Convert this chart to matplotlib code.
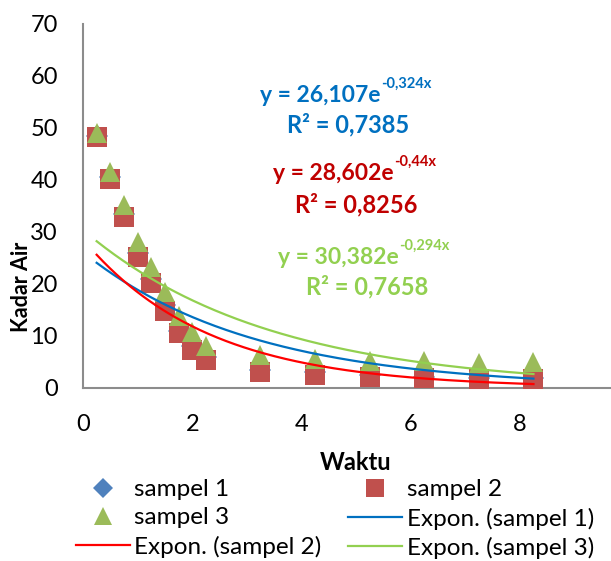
import numpy as np
import matplotlib
matplotlib.use("Agg")
import matplotlib.pyplot as plt
from matplotlib.lines import Line2D

plt.rcParams['font.family'] = ['Lato', 'DejaVu Sans']

# ---- data ----
waktu = [0.25, 0.5, 0.75, 1.0, 1.25, 1.5, 1.75, 2.0, 2.25, 3.25, 4.25, 5.25, 6.25, 7.25, 8.25]
sampel1 = [48.5, 40.5, 33.5, 26.0, 21.0, 16.0, 11.0, 8.0, 6.0, 3.5, 3.0, 2.5, 2.2, 2.0, 2.0]
sampel2 = [48.2, 40.2, 32.9, 25.2, 20.1, 14.9, 10.5, 7.3, 5.4, 3.1, 2.5, 2.1, 1.9, 1.7, 1.7]
sampel3 = [49.0, 41.5, 35.2, 28.1, 23.3, 18.4, 13.8, 10.7, 8.0, 6.3, 5.5, 5.1, 5.1, 4.9, 5.0]

# exponential trendline coefficients (y = A * exp(b x))
fit_A = [26.107, 28.602, 30.382]
fit_b = [-0.324, -0.44, -0.294]
fit_r2 = ["0,7385", "0,8256", "0,7658"]
fit_A_txt = ["26,107", "28,602", "30,382"]
fit_b_txt = ["-0,324x", "-0,44x", "-0,294x"]

series_names = ["sampel 1", "sampel 2", "sampel 3"]
trend_names = ["Expon. (sampel 1)", "Expon. (sampel 2)", "Expon. (sampel 3)"]

marker_colors = ["#4F81BD", "#C0504D", "#9BBB59"]
line_colors = ["#0070C0", "#FF0000", "#92D050"]
text_colors = ["#0070C0", "#C00000", "#92D050"]

W, H = 611, 561
fig = plt.figure(figsize=(W / 100, H / 100), dpi=100)
ax = fig.add_axes([83 / W, 1 - 388 / H, 1 - 83 / W, (388 - 24) / H])

ax.plot(waktu, sampel1, linestyle='none', marker='D', markersize=11,
        color=marker_colors[0], markeredgewidth=0, zorder=2)
ax.plot(waktu, sampel2, linestyle='none', marker='s', markersize=14.2,
        color=marker_colors[1], markeredgewidth=0, zorder=3)
ax.plot(waktu, sampel3, linestyle='none', marker='^', markersize=14.5,
        color=marker_colors[2], markeredgewidth=0, zorder=4)

xs = np.linspace(min(waktu), max(waktu), 200)
for i in range(3):
    ax.plot(xs, fit_A[i] * np.exp(fit_b[i] * xs), color=line_colors[i], lw=1.6, zorder=5)

ax.set_xlim(0, 9.67)
ax.set_ylim(0, 70)
ax.set_xticks([0, 2, 4, 6, 8])
ax.set_yticks(range(0, 71, 10))
ax.tick_params(length=0, labelsize=17)
ax.tick_params(axis='x', pad=19)
ax.tick_params(axis='y', pad=18)
for s in ['top', 'right']:
    ax.spines[s].set_visible(False)
for s in ['left', 'bottom']:
    ax.spines[s].set_color('#8C8C8C')
    ax.spines[s].set_linewidth(1.5)

# axis titles
fig.text(22 / W, 1 - 287 / H, "Kadar Air", rotation=90, ha='center', va='center',
         fontsize=15.5, fontweight='bold')
fig.text(356 / W, 1 - 462 / H, "Waktu", ha='center', va='center',
         fontsize=17, fontweight='bold')

# equations
eq_pos = [(260, 95, 348, 125), (273, 173, 356, 205), (278, 257, 367, 287)]
for i in range(3):
    x0, y0, xr, yr = eq_pos[i]
    t = fig.text(x0 / W, 1 - y0 / H, "y = " + fit_A_txt[i] + "e", ha='left', va='center',
                 fontsize=16.5, fontweight='bold', color=text_colors[i])
    ax.annotate(fit_b_txt[i], xy=(1, 0.68), xycoords=t, ha='left', va='bottom',
                fontsize=10.5, fontweight='bold', color=text_colors[i],
                xytext=(0.5, 0), textcoords='offset points', annotation_clip=False)
    fig.text(xr / W, 1 - yr / H, "R² = " + fit_r2[i], ha='center', va='center',
             fontsize=17, fontweight='bold', color=text_colors[i])

# legend (row-major order emulated)
h_s1 = Line2D([], [], linestyle='none', marker='D', markersize=10, color=marker_colors[0], markeredgewidth=0)
h_s2 = Line2D([], [], linestyle='none', marker='s', markersize=13, color=marker_colors[1], markeredgewidth=0)
h_s3 = Line2D([], [], linestyle='none', marker='^', markersize=13, color=marker_colors[2], markeredgewidth=0)
h_e1 = Line2D([], [], color=line_colors[0], lw=1.6)
h_e2 = Line2D([], [], color=line_colors[1], lw=1.6)
h_e3 = Line2D([], [], color=line_colors[2], lw=1.6)
handles = [h_s1, h_s3, h_e2, h_s2, h_e1, h_e3]
labels = [series_names[0], series_names[2], trend_names[1],
          series_names[1], trend_names[0], trend_names[2]]
leg = fig.legend(handles, labels, ncol=2, loc='center', bbox_to_anchor=(335 / W, 1 - 519 / H),
                 frameon=False, fontsize=17.5, handlelength=2.2, handletextpad=0.2,
                 columnspacing=1.1, labelspacing=0.3, borderpad=0)

fig.savefig("out.png", dpi=100)
